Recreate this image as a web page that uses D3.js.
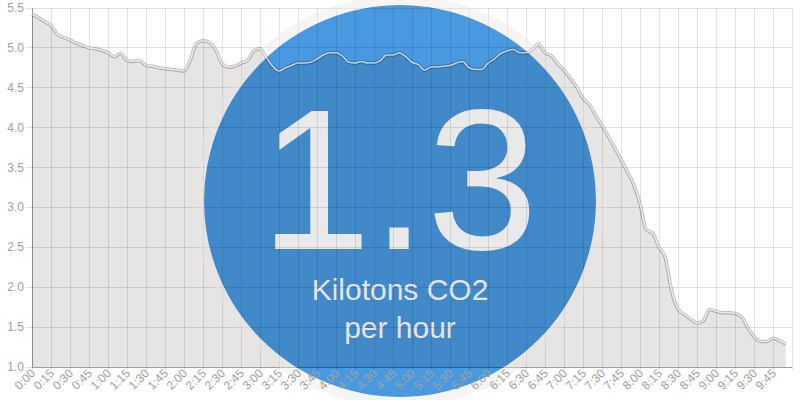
<!DOCTYPE html>
<html lang="en">
    <head>
        <meta charset="utf-8">
        <title>CO2 per hour</title>
        <script type="text/javascript" src="https://cdn.jsdelivr.net/npm/d3@7"></script>
        <style>
            body { margin: 0; background: #fff; }
        </style>
    </head>
    <body>
        <script type="text/javascript">

        //Width and height
        var w = 800;
        var h = 400;

        //Readings every 5 minutes, kilotons CO2 per hour
        var co2 = [5.42, 5.38, 5.33, 5.28, 5.17, 5.13, 5.10, 5.06, 5.03, 5.00,
                   4.99, 4.97, 4.94, 4.89, 4.93, 4.84, 4.83, 4.84, 4.78, 4.77,
                   4.75, 4.74, 4.73, 4.72, 4.71, 4.85, 5.06, 5.09, 5.07, 4.98,
                   4.80, 4.76, 4.77, 4.81, 4.84, 4.96, 4.99, 4.88, 4.77, 4.71,
                   4.75, 4.78, 4.81, 4.81, 4.82, 4.86, 4.91, 4.94, 4.94, 4.90,
                   4.82, 4.81, 4.83, 4.81, 4.81, 4.84, 4.91, 4.91, 4.94, 4.89,
                   4.82, 4.79, 4.72, 4.76, 4.76, 4.77, 4.78, 4.81, 4.83, 4.75,
                   4.73, 4.73, 4.81, 4.86, 4.93, 4.96, 4.98, 4.94, 4.94, 4.98,
                   5.05, 4.94, 4.90, 4.80, 4.72, 4.62, 4.51, 4.37, 4.29, 4.16,
                   4.03, 3.89, 3.75, 3.60, 3.45, 3.29, 3.05, 2.72, 2.68, 2.50,
                   2.37, 1.95, 1.73, 1.66, 1.60, 1.55, 1.58, 1.72, 1.70, 1.68,
                   1.68, 1.67, 1.63, 1.50, 1.38, 1.32, 1.32, 1.36, 1.33, 1.29];

        var timeLabels = ["0:00", "0:15", "0:30", "0:45", "1:00", "1:15", "1:30", "1:45",
                          "2:00", "2:15", "2:30", "2:45", "3:00", "3:15", "3:30", "3:45",
                          "4:00", "4:15", "4:30", "4:45", "5:00", "5:15", "5:30", "5:45",
                          "6:00", "6:15", "6:30", "6:45", "7:00", "7:15", "7:30", "7:45",
                          "8:00", "8:15", "8:30", "8:45", "9:00", "9:15", "9:30", "9:45"];

        var yTicks = [1.0, 1.5, 2.0, 2.5, 3.0, 3.5, 4.0, 4.5, 5.0, 5.5];

        var bigValue = "1.3";
        var unitLines = ["Kilotons CO2", "per hour"];

        var plotLeft = 32, plotRight = 792, plotTop = 8, plotBottom = 367;

        //Scales: x in minutes since 0:00
        var xScale = d3.scaleLinear()
                       .domain([0, timeLabels.length * 15])
                       .range([plotLeft, plotRight]);

        var yScale = d3.scaleLinear()
                       .domain([1, 5.5])
                       .range([plotBottom, plotTop]);

        var svg = d3.select("body")
                    .append("svg")
                    .attr("width", w)
                    .attr("height", h)
                    .style("font-family", "'Liberation Sans', Arial, sans-serif");

        //Big blue disc sits under the chart
        svg.append("circle")
           .attr("cx", 400)
           .attr("cy", 201)
           .attr("r", 196)
           .attr("fill", "#4999e0");

        //Area under the line
        var area = d3.area()
                     .x(function(d, i) { return xScale(i * 5); })
                     .y0(yScale(1))
                     .y1(function(d) { return yScale(d); })
                     .curve(d3.curveMonotoneX);

        svg.append("path")
           .datum(co2)
           .attr("d", area)
           .attr("fill", "rgba(0,0,0,0.1)");

        //Badge text over the area, under the grid
        svg.append("text")
           .attr("x", 399)
           .attr("y", 249)
           .attr("text-anchor", "middle")
           .attr("font-size", "200px")
           .attr("fill", "#e9e9e9")
           .text(bigValue);

        svg.selectAll("text.unit")
           .data(unitLines)
           .enter()
           .append("text")
           .attr("class", "unit")
           .attr("x", 400)
           .attr("y", function(d, i) { return 300 + i * 38; })
           .attr("text-anchor", "middle")
           .attr("font-size", "30px")
           .attr("fill", "#e6e6e6")
           .text(function(d) { return d; });

        //Grid
        var xGrid = d3.range(0, timeLabels.length + 1).map(function(i) { return i * 15; });

        svg.append("g")
           .selectAll("line")
           .data(xGrid)
           .enter()
           .append("line")
           .attr("x1", function(d) { return xScale(d); })
           .attr("x2", function(d) { return xScale(d); })
           .attr("y1", plotTop)
           .attr("y2", plotBottom + 3)
           .attr("stroke", "rgba(0,0,0,0.11)")
           .attr("shape-rendering", "crispEdges");

        svg.append("g")
           .selectAll("line")
           .data(yTicks)
           .enter()
           .append("line")
           .attr("x1", plotLeft - 6)
           .attr("x2", plotRight)
           .attr("y1", function(d) { return yScale(d); })
           .attr("y2", function(d) { return yScale(d); })
           .attr("stroke", "rgba(0,0,0,0.11)")
           .attr("shape-rendering", "crispEdges");

        //Axes lines
        svg.append("line")
           .attr("x1", plotLeft).attr("x2", plotLeft)
           .attr("y1", plotTop).attr("y2", plotBottom)
           .attr("stroke", "rgba(0,0,0,0.3)")
           .attr("shape-rendering", "crispEdges");
        svg.append("line")
           .attr("x1", plotLeft).attr("x2", plotRight)
           .attr("y1", plotBottom).attr("y2", plotBottom)
           .attr("stroke", "rgba(0,0,0,0.3)")
           .attr("shape-rendering", "crispEdges");

        //The line: grey edge with white core
        var line = d3.line()
                     .x(function(d, i) { return xScale(i * 5); })
                     .y(function(d) { return yScale(d); })
                     .curve(d3.curveMonotoneX);

        svg.append("path")
           .datum(co2)
           .attr("d", line)
           .attr("fill", "none")
           .attr("stroke", "rgba(0,0,0,0.25)")
           .attr("stroke-width", 3.5);

        svg.append("path")
           .datum(co2)
           .attr("d", line)
           .attr("fill", "none")
           .attr("stroke", "rgba(255,255,255,0.7)")
           .attr("stroke-width", 1.6);

        //Soft ring round the disc
        svg.append("circle")
           .attr("cx", 400)
           .attr("cy", 201)
           .attr("r", 201)
           .attr("fill", "none")
           .attr("stroke", "rgba(236,230,224,0.4)")
           .attr("stroke-width", 10);

        //Y labels
        svg.append("g")
           .selectAll("text")
           .data(yTicks)
           .enter()
           .append("text")
           .attr("x", plotLeft - 8)
           .attr("y", function(d) { return yScale(d) + 4; })
           .attr("text-anchor", "end")
           .attr("font-size", "12px")
           .attr("fill", "#a0a0a0")
           .text(function(d) { return d3.format(".1f")(d); });

        //X labels, rotated
        svg.append("g")
           .selectAll("text")
           .data(timeLabels)
           .enter()
           .append("text")
           .attr("transform", function(d, i) {
              return "translate(" + (xScale(i * 15) + 4) + "," + (plotBottom + 7) + ") rotate(-45)";
           })
           .attr("text-anchor", "end")
           .attr("font-size", "12px")
           .attr("fill", "#a0a0a0")
           .text(function(d) { return d; });

        </script>
    </body>
</html>
